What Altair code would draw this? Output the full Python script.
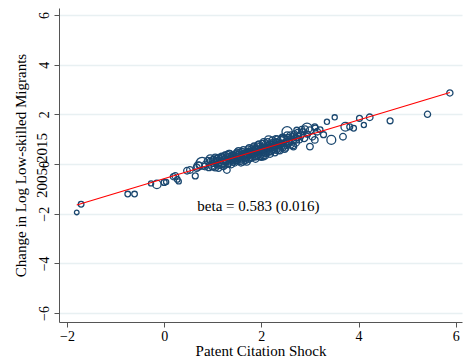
import altair as alt
import pandas as pd

# scatter points (Patent Citation Shock, Change in log low-skilled migrants, weight)
x_vals = [-1.80, -1.71, -0.75, -0.61, -0.27, -0.15, 0.00, 0.04, 0.19, 0.23, 0.27, 0.30, 0.47, 0.53,
          0.64, 0.67, 0.72, 0.78, 0.70, 0.84, 1.02, 1.09, 1.12, 1.29, 2.05, 2.53, 2.66, 2.94, 3.00,
          3.10, 3.35, 3.44, 3.51, 3.68, 3.73, 3.82, 3.90, 4.02, 4.11, 4.23, 4.65, 5.42, 5.88,
          3.11, 3.21, 3.28, 2.83, 2.73,
          0.85, 0.90, 0.92, 0.95, 0.98, 1.00, 1.02, 1.05, 1.08, 1.10, 1.12, 1.15, 1.18, 1.20, 1.22,
          1.25, 1.28, 1.30, 1.32, 1.35, 1.37, 1.40, 1.42, 1.45, 1.47, 1.50, 1.52, 1.55, 1.57, 1.60,
          1.62, 1.65, 1.67, 1.70, 1.72, 1.75, 1.77, 1.80, 1.82, 1.85, 1.87, 1.90, 1.92, 1.95, 1.97,
          2.00, 2.02, 2.05, 2.07, 2.10, 2.12, 2.15, 2.17, 2.20, 2.22, 2.25, 2.27, 2.30, 2.32, 2.35,
          2.37, 2.40, 2.42, 2.45, 2.47, 2.50, 2.52, 2.55, 2.58, 2.60, 2.63, 2.65, 2.68, 2.70, 2.72,
          2.75, 2.78, 2.80, 2.85, 2.88, 2.90, 2.95, 3.00, 3.05, 3.10, 3.15,
          1.12, 1.25, 1.33, 1.38, 1.48, 1.53, 1.58, 1.63, 1.68, 1.73, 1.78, 1.83, 1.88, 1.93, 1.98,
          2.03, 2.08, 2.13, 2.18, 2.23, 2.28, 2.33, 2.38, 2.43, 2.48, 2.53, 1.60, 1.70, 1.80, 1.90,
          2.00, 2.10, 2.20, 1.75, 1.85, 1.95, 2.05, 1.55, 1.45, 1.35,
          0.95, 1.00, 1.05, 1.15, 1.20, 1.25, 1.30, 1.35, 1.40, 1.45, 1.50, 1.55, 1.60, 1.65, 1.70,
          1.75, 1.80, 1.85, 1.90, 1.95, 2.00, 2.05, 2.10, 2.15, 2.20, 2.25, 2.30, 2.35, 2.40, 2.45,
          2.50, 2.55, 2.60, 2.65, 2.70, 2.75, 1.62, 1.72, 1.82, 1.92, 2.02, 2.12, 2.22, 2.32, 1.52,
          1.42, 1.32, 1.22, 1.78, 1.88, 1.98, 2.08, 2.18, 2.28, 2.38]
y_vals = [-1.95, -1.62, -1.21, -1.21, -0.78, -0.82, -0.74, -0.72, -0.51, -0.48, -0.62, -0.70, -0.27, -0.24,
          -0.48, -0.15, -0.05, 0.03, -0.08, -0.10, 0.16, 0.10, -0.17, -0.24, 0.29, 1.30, 0.70, 1.44, 0.70,
          0.97, 1.70, 0.97, 1.88, 1.10, 1.50, 1.50, 1.44, 1.84, 1.57, 1.88, 1.74, 2.00, 2.86,
          1.45, 1.38, 1.18, 1.38, 1.36,
          -0.02, 0.12, -0.15, 0.05, -0.08, 0.15, 0.02, -0.12, 0.22, 0.08, -0.05, 0.18, 0.30, 0.05, -0.10,
          0.20, 0.12, 0.35, 0.00, 0.25, 0.15, 0.32, 0.08, 0.28, 0.40, 0.18, 0.30, 0.45, 0.22, 0.35,
          0.10, 0.42, 0.28, 0.50, 0.35, 0.20, 0.45, 0.55, 0.38, 0.30, 0.60, 0.48, 0.35, 0.65, 0.52,
          0.42, 0.70, 0.58, 0.45, 0.75, 0.62, 0.50, 0.80, 0.68, 0.55, 0.85, 0.72, 0.60, 0.90, 0.78,
          0.65, 0.95, 0.82, 0.70, 1.00, 0.85, 0.75, 1.05, 0.90, 0.80, 1.10, 0.95, 1.20, 0.88, 1.05,
          1.25, 0.98, 1.15, 1.30, 1.05, 1.40, 1.20, 1.35, 1.10, 1.50, 1.30,
          0.25, -0.05, 0.40, -0.02, 0.12, 0.50, 0.05, 0.55, 0.15, 0.60, 0.25, 0.65, 0.20, 0.75, 0.30,
          0.82, 0.35, 0.90, 0.40, 0.95, 0.45, 1.00, 0.55, 1.08, 0.60, 1.15, 0.20, 0.40, 0.45, 0.60,
          0.55, 0.60, 0.80, 0.50, 0.50, 0.45, 0.65, 0.30, 0.20, 0.10,
          0.20, -0.05, 0.25, 0.00, 0.25, 0.35, 0.05, 0.40, 0.20, 0.05, 0.45, 0.15, 0.50, 0.30, 0.10,
          0.65, 0.30, 0.70, 0.35, 0.80, 0.30, 0.85, 0.45, 0.95, 0.50, 0.65, 1.00, 0.55, 0.75, 1.05,
          0.65, 0.85, 1.15, 0.75, 1.00, 1.10, 0.38, 0.45, 0.52, 0.58, 0.62, 0.70, 0.75, 0.82, 0.35,
          0.28, 0.22, 0.15, 0.38, 0.42, 0.50, 0.55, 0.62, 0.70, 0.78]
weights = [12, 18, 18, 18, 15, 40, 20, 15, 22, 25, 18, 15, 25, 25,
           20, 30, 22, 80, 40, 25, 30, 25, 22, 25, 22, 60, 25, 60, 25,
           25, 15, 45, 15, 25, 45, 20, 18, 20, 15, 25, 20, 22, 22,
           20, 18, 20, 25, 20,
           25, 30, 20, 45, 25, 30, 20, 35, 25, 50, 20, 30, 25, 40, 22,
           30, 25, 35, 20, 45, 25, 30, 20, 40, 25, 35, 55, 25, 30, 20,
           30, 25, 40, 20, 35, 25, 30, 45, 20, 30, 25, 35, 20, 40, 25,
           30, 20, 35, 25, 45, 20, 30, 25, 35, 20, 30, 25, 40, 20, 30,
           25, 35, 20, 30, 40, 25, 20, 30, 25, 35, 20, 30, 25, 40, 20,
           30, 25, 35, 20, 30, 25, 20, 30, 25, 20, 25,
           25, 20, 30, 25, 20, 35, 25, 30, 20, 25, 30, 20, 25, 30, 20,
           25, 30, 20, 25, 30, 20, 25, 30, 20, 25, 30, 20, 25, 30, 20,
           25, 30, 20, 25, 30, 20, 25, 30, 20, 25,
           40, 50, 30, 45, 30, 25, 40, 30, 45, 25, 30, 40, 25, 45, 30,
           25, 40, 30, 45, 25, 35, 40, 30, 45, 25, 40, 30, 25, 45, 30,
           25, 40, 30, 25, 40, 30, 30, 35, 30, 35, 30, 35, 30, 35, 30,
           35, 30, 35, 25, 25, 25, 25, 25, 25, 25]

# fitted line end points
fit_x = [-1.80, 5.88]
fit_y = [-1.65, 2.88]

# annotation
note_x = [1.94]
note_y = [-1.68]
note_text = ["beta = 0.583 (0.016)"]

x_ticks = [-2, 0, 2, 4, 6]
y_ticks = [-6, -4, -2, 0, 2, 4, 6]

pts = pd.DataFrame({"x": x_vals, "y": y_vals, "w": weights})
fit = pd.DataFrame({"x": fit_x, "y": fit_y})
note = pd.DataFrame({"x": note_x, "y": note_y, "t": note_text})

FONT = "Liberation Serif"
xs = alt.Scale(domain=[-2.165, 6.13], nice=False, zero=False)
ys = alt.Scale(domain=[-6.36, 6.28], nice=False, zero=False)

x_axis = alt.Axis(values=x_ticks, title="Patent Citation Shock", grid=False,
                  labelFont=FONT, labelFontSize=14, labelColor="#000000",
                  titleFont=FONT, titleFontSize=15, titleFontWeight="normal", titleColor="#000000",
                  domainColor="#555555", tickColor="#555555", tickSize=5,
                  labelPadding=2, titlePadding=0, labelFlush=False)
y_axis = alt.Axis(values=y_ticks, title=["Change in Log Low-skilled Migrants", "2005-2015"],
                  grid=True, gridColor="#e8f0f2", gridWidth=1.5,
                  labelAngle=-90, labelAlign="center", labelBaseline="bottom",
                  labelFont=FONT, labelFontSize=14, labelColor="#000000",
                  titleFont=FONT, titleFontSize=15, titleFontWeight="normal", titleColor="#000000",
                  titleLineHeight=21, titleX=-39, titleBaseline="middle",
                  domainColor="#555555", tickColor="#555555", tickSize=5,
                  labelPadding=3, labelFlush=False)

points = alt.Chart(pts).mark_point(shape="circle", filled=False, color="#1a476f",
                                   strokeWidth=1.3, opacity=1).encode(
    x=alt.X("x:Q", scale=xs, axis=x_axis),
    y=alt.Y("y:Q", scale=ys, axis=y_axis),
    size=alt.Size("w:Q", scale=alt.Scale(domain=[0, 100], range=[0, 175]), legend=None),
)

line = alt.Chart(fit).mark_line(color="#ff0000", strokeWidth=1.2).encode(
    x=alt.X("x:Q", scale=xs), y=alt.Y("y:Q", scale=ys))

text = alt.Chart(note).mark_text(font=FONT, fontSize=15, color="#000000", align="center",
                                 baseline="middle").encode(
    x=alt.X("x:Q", scale=xs), y=alt.Y("y:Q", scale=ys), text="t:N")

chart = alt.layer(points, line, text).properties(
    width=403, height=314,
    autosize=alt.AutoSizeParams(type="none"),
    padding={"left": 59, "top": 8, "right": 3, "bottom": 42},
    background="white",
).configure_view(stroke=None)

chart.save("out.html", embed_options={"renderer": "svg", "actions": False})
